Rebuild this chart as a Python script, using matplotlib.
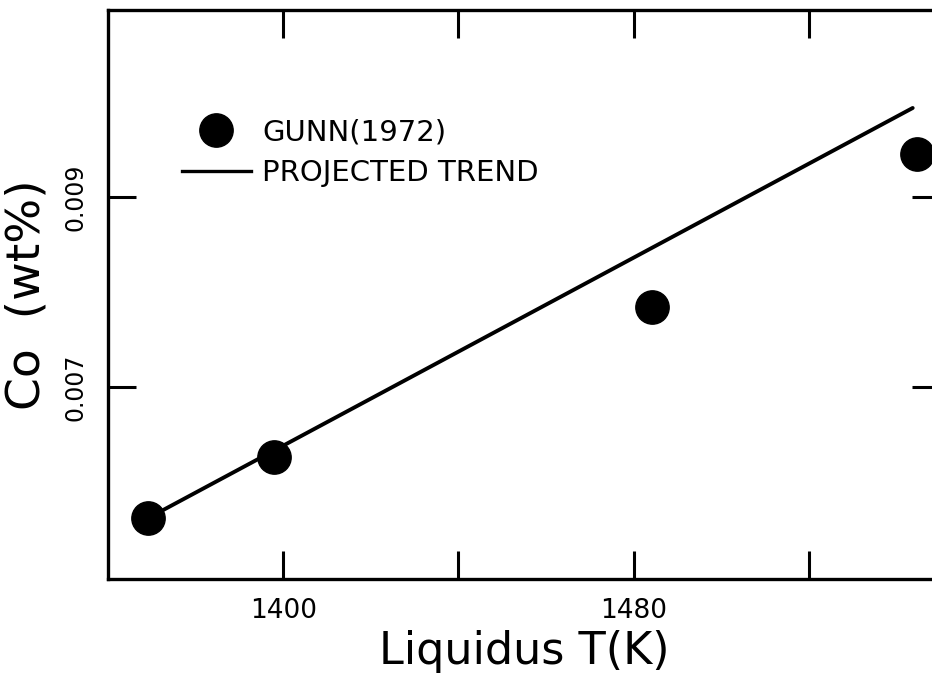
import numpy as np
import matplotlib.pyplot as plt
from matplotlib.lines import Line2D

# data
gunn_T = [1369.1, 1397.9, 1484.2, 1544.7]
gunn_co = [0.00562, 0.00626, 0.00784, 0.00946]
trend_T = [1369.1, 1543.7]
trend_co = [0.00562, 0.00994]

x_ticks = [1400, 1440, 1480, 1520]
x_labels = ['1400', '', '1480', '']
y_ticks = [0.007, 0.009]
y_labels = ['0.007', '0.009']

fig = plt.figure(figsize=(9.32, 6.87), dpi=100)
# right spine sits just past the edge of the picture
ax = fig.add_axes([0.1159, 0.1572, 0.893, 0.828])

ax.plot(trend_T, trend_co, '-', color='black', lw=2.8, solid_capstyle='round')
ax.plot(gunn_T, gunn_co, 'o', color='black', ms=24, clip_on=False)

ax.set_xlim(1360, 1550)
ax.set_ylim(0.00498, 0.01097)

ax.set_xticks(x_ticks)
ax.set_xticklabels(x_labels)
ax.set_yticks(y_ticks)
ax.set_yticklabels(y_labels, rotation=90, va='center')

ax.tick_params(direction='in', length=20, width=2.2, top=True, right=True,
               colors='black')
ax.tick_params(axis='x', labelsize=19, pad=14)
ax.tick_params(axis='y', labelsize=17, pad=15)
for s in ax.spines.values():
    s.set_linewidth(2.4)

ax.set_xlabel('Liquidus T(K)', fontsize=32, labelpad=4)
ax.set_ylabel('Co  (wt%)', fontsize=34, labelpad=10)

handles = [Line2D([], [], marker='o', ls='none', color='black', ms=24),
           Line2D([], [], ls='-', color='black', lw=2.4)]
ax.legend(handles, ['GUNN(1972)', 'PROJECTED TREND'], loc='upper left',
          bbox_to_anchor=(0.183, 0.845), bbox_transform=fig.transFigure,
          frameon=False, fontsize=21, handlelength=2.35, handletextpad=0.4,
          labelspacing=0.45, borderaxespad=0)

fig.savefig('out.png', dpi=100)
